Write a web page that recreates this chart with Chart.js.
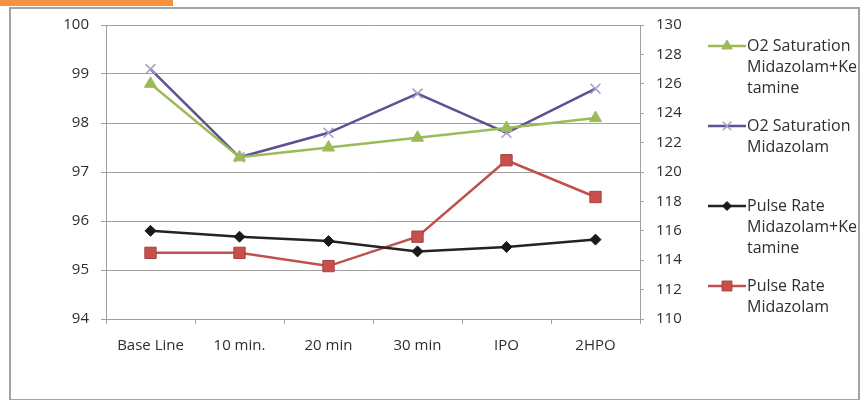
<!DOCTYPE html>
<html>
<head>
<meta charset="utf-8">
<title>O2 Saturation and Pulse Rate</title>
<script src="https://cdn.jsdelivr.net/npm/chart.js@4/dist/chart.umd.min.js"></script>
<style>
    body { margin: 0; background: #ffffff; }
    #topBar { position: absolute; left: 0; top: 0; width: 173px; height: 6px; background: #f4923f; }
    #frame { position: absolute; left: 9px; top: 7px; width: 847px; height: 390px; border: 2px solid #a3a3a3; }
    #myChart { position: absolute; left: 0; top: 0; }
</style>
</head>
<body>
<div id="topBar"></div>
<div id="frame"></div>
<canvas id="myChart" width="861" height="400"></canvas>
<script>
'use strict';

let times = ['Base Line', '10 min.', '20 min', '30 min', 'IPO', '2HPO'];
let o2MidKet = [98.8, 97.3, 97.5, 97.7, 97.9, 98.1];
let o2Mid = [99.1, 97.3, 97.8, 98.6, 97.8, 98.7];
let pulseMidKet = [116.0, 115.6, 115.3, 114.6, 114.9, 115.4];
let pulseMid = [114.5, 114.5, 113.6, 115.6, 120.8, 118.3];
let legendNames = [
    ['O2 Saturation', 'Midazolam+Ke', 'tamine'],
    ['O2 Saturation', 'Midazolam'],
    ['Pulse Rate', 'Midazolam+Ke', 'tamine'],
    ['Pulse Rate', 'Midazolam']
];

let fontName = '"Open Sans", "DejaVu Sans", sans-serif';
let textColor = '#2e2e2e';
let gridColor = '#a0a0a0';

// legend drawn by hand so the names can wrap the way they do here
let sideLegend = {
    id: 'sideLegend',
    afterDraw: function (chart) {
        let ctx = chart.ctx;
        let sets = chart.data.datasets;
        ctx.save();
        ctx.font = '16px ' + fontName;
        ctx.fillStyle = textColor;
        ctx.textBaseline = 'middle';
        for (let i = 0; i < sets.length; i++) {
            let y = 46 + i * 80;
            ctx.strokeStyle = sets[i].borderColor;
            ctx.lineWidth = sets[i].borderWidth;
            ctx.beginPath();
            ctx.moveTo(708, y);
            ctx.lineTo(746, y);
            ctx.stroke();
            ctx.fillStyle = sets[i].pointBackgroundColor;
            ctx.strokeStyle = sets[i].pointBorderColor;
            ctx.lineWidth = sets[i].pointBorderWidth;
            Chart.helpers.drawPoint(ctx, {
                pointStyle: sets[i].pointStyle,
                radius: sets[i].pointRadius - 1,
                borderWidth: sets[i].pointBorderWidth
            }, 727, y);
            ctx.fillStyle = textColor;
            let lines = legendNames[i];
            for (let j = 0; j < lines.length; j++) {
                ctx.fillText(lines[j], 747, y + j * 21);
            }
        }
        ctx.restore();
    }
};

let ctx = document.getElementById('myChart').getContext('2d');
let myChart = new Chart(ctx, {
    type: 'line',
    data: {
        labels: times,
        datasets: [{
            label: legendNames[0].join(''),
            data: o2MidKet,
            yAxisID: 'y',
            borderColor: '#9bbb59',
            borderWidth: 2.5,
            pointStyle: 'triangle',
            pointRadius: 7,
            pointBackgroundColor: '#9bbb59',
            pointBorderColor: '#9bbb59',
            pointBorderWidth: 1
        }, {
            label: legendNames[1].join(''),
            data: o2Mid,
            yAxisID: 'y',
            borderColor: '#5f4f93',
            borderWidth: 2.5,
            pointStyle: 'crossRot',
            pointRadius: 7,
            pointBackgroundColor: '#a79ec6',
            pointBorderColor: '#a79ec6',
            pointBorderWidth: 1.5
        }, {
            label: legendNames[2].join(''),
            data: pulseMidKet,
            yAxisID: 'y1',
            borderColor: '#232323',
            borderWidth: 2.5,
            pointStyle: 'rectRot',
            pointRadius: 5.5,
            pointBackgroundColor: '#1a1a1a',
            pointBorderColor: '#1a1a1a',
            pointBorderWidth: 1
        }, {
            label: legendNames[3].join(''),
            data: pulseMid,
            yAxisID: 'y1',
            borderColor: '#c0504d',
            borderWidth: 2.5,
            pointStyle: 'rect',
            pointRadius: 8,
            pointBackgroundColor: '#c74f4c',
            pointBorderColor: '#a84240',
            pointBorderWidth: 1
        }]
    },
    options: {
        responsive: false,
        animation: false,
        layout: {
            padding: { top: 25, left: 0, right: 0, bottom: 0 }
        },
        plugins: {
            legend: { display: false },
            tooltip: { enabled: false }
        },
        elements: {
            line: { tension: 0 }
        },
        scales: {
            x: {
                offset: true,
                grid: {
                    offset: true,
                    drawOnChartArea: false,
                    tickLength: 5,
                    color: gridColor
                },
                border: { color: gridColor, width: 1 },
                ticks: {
                    padding: 13,
                    color: textColor,
                    font: { family: fontName, size: 15 },
                    maxRotation: 0
                },
                afterFit: function (scale) {
                    scale.height = 81;
                }
            },
            y: {
                position: 'left',
                min: 94,
                max: 100,
                ticks: {
                    stepSize: 1,
                    padding: 12,
                    color: textColor,
                    font: { family: fontName, size: 15 }
                },
                grid: {
                    color: gridColor,
                    tickLength: 5
                },
                border: { color: gridColor, width: 1 },
                afterFit: function (scale) {
                    scale.width = 106;
                }
            },
            y1: {
                position: 'right',
                min: 110,
                max: 130,
                ticks: {
                    stepSize: 2,
                    padding: 12,
                    color: textColor,
                    font: { family: fontName, size: 15 }
                },
                grid: {
                    drawOnChartArea: false,
                    color: gridColor,
                    tickLength: 4
                },
                border: { color: gridColor, width: 1 },
                afterFit: function (scale) {
                    scale.width = 221;
                }
            }
        }
    },
    plugins: [sideLegend]
});
</script>
</body>
</html>
